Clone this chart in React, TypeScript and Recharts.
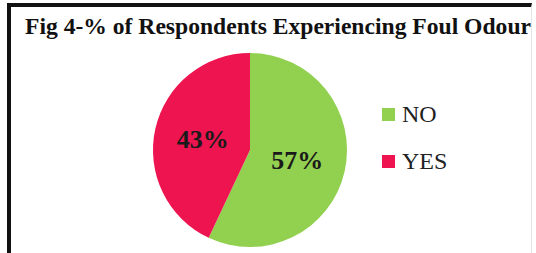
import React from 'react';
import { PieChart, Pie, Cell, Legend } from 'recharts';

const categories = ['NO', 'YES'];
const shares = [57, 43];
const colors = ['#92d050', '#ee1450'];

const data = categories.map((name, i) => ({ name, value: shares[i] }));

const RADIAN = Math.PI / 180;

const renderLabel = (props: any) => {
  const { cx, cy, midAngle, outerRadius, value } = props;
  const r = outerRadius * 0.5;
  const x = cx + r * Math.cos(-midAngle * RADIAN);
  const y = cy + r * Math.sin(-midAngle * RADIAN);
  return (
    <text
      x={x}
      y={y}
      textAnchor="middle"
      dominantBaseline="central"
      fill="#1a1a1a"
      fontFamily="'Liberation Serif', serif"
      fontWeight={700}
      fontSize={26}
    >
      {`${value}%`}
    </text>
  );
};

const renderLegend = () => (
  <div style={{ fontFamily: "'Liberation Serif', serif", fontSize: 24, color: '#222' }}>
    {categories.map((name, i) => (
      <div key={name} style={{ display: 'flex', alignItems: 'center', height: 28, marginBottom: i === 0 ? 19 : 0 }}>
        <span style={{ display: 'inline-block', width: 13, height: 13, background: colors[i], marginRight: 7 }} />
        <span>{name}</span>
      </div>
    ))}
  </div>
);

export default function App() {
  return (
    <div style={{ position: 'absolute', left: 0, top: 0, width: 536, height: 253, background: '#fff', overflow: 'hidden' }}>
      <div
        style={{
          position: 'absolute',
          left: 7,
          top: 3,
          width: 520,
          height: 260,
          borderTop: '4px solid #111',
          borderLeft: '4px solid #111',
          borderRight: '1px solid #e6e6e6',
        }}
      />
      <div
        style={{
          position: 'absolute',
          left: 25,
          top: 12,
          whiteSpace: 'nowrap',
          fontFamily: "'Liberation Serif', serif",
          fontWeight: 700,
          fontSize: 23.6,
          lineHeight: '28px',
          color: '#111',
          background: '#fff',
        }}
      >
        Fig 4-% of Respondents Experiencing Foul Odour
      </div>
      <div style={{ position: 'absolute', left: 0, top: 0 }}>
        <PieChart width={536} height={253}>
          <Pie
            data={data}
            dataKey="value"
            nameKey="name"
            cx={245}
            cy={145}
            outerRadius={97}
            startAngle={90}
            endAngle={-270}
            stroke="none"
            label={renderLabel}
            labelLine={false}
            isAnimationActive={false}
          >
            {data.map((d, i) => (
              <Cell key={d.name} fill={colors[i]} />
            ))}
          </Pie>
          <Legend
            content={renderLegend}
            wrapperStyle={{ position: 'absolute', left: 382, top: 100, width: 120 }}
          />
        </PieChart>
      </div>
    </div>
  );
}
